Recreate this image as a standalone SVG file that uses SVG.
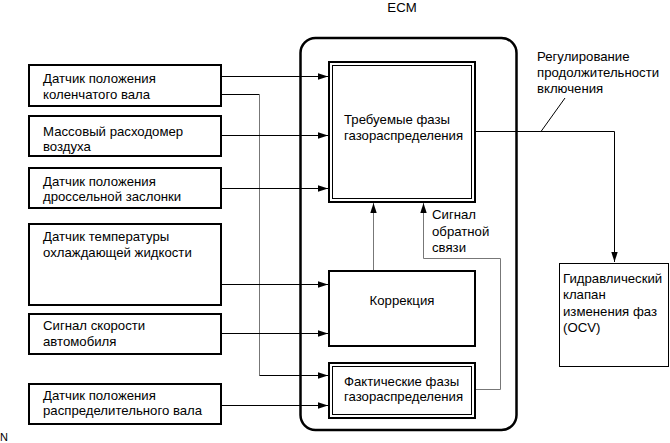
<svg xmlns="http://www.w3.org/2000/svg" width="670" height="443" viewBox="0 0 670 443">
<defs>
<style>
text{font-family:"Liberation Sans",Arial,sans-serif;font-size:13.2px;fill:#000}
.box{fill:#fff;stroke:#000;stroke-width:2}
.thin{fill:none;stroke:#000;stroke-width:1}
.ln{fill:none;stroke:#000;stroke-width:1}
.gl{fill:none;stroke:#777;stroke-width:1}
.ecm{fill:none;stroke:#000;stroke-width:2.5}
</style>
<marker id="ar" markerUnits="userSpaceOnUse" markerWidth="10" markerHeight="8" refX="10" refY="4" orient="auto">
<path d="M0,0.8 L10,4 L0,7.2 Z" fill="#000"/>
</marker>
</defs>
<rect width="670" height="443" fill="#fff"/>
<text x="402" y="12" text-anchor="middle">ECM</text>
<g id="ecm"><rect class="ecm" x="300.5" y="38" width="216" height="392" rx="15"/></g>
<g id="s1"><rect class="box" x="29" y="65" width="192" height="41"/><text x="43" y="83">Датчик положения</text><text x="43" y="99">коленчатого вала</text></g>
<g id="s2"><rect class="box" x="29" y="116" width="192" height="40"/><text x="43" y="136">Массовый расходомер</text><text x="43" y="151">воздуха</text></g>
<g id="s3"><rect class="box" x="29" y="168" width="192" height="40"/><text x="43" y="186">Датчик положения</text><text x="43" y="201">дроссельной заслонки</text></g>
<g id="s4"><rect class="box" x="29" y="224" width="192" height="81"/><text x="43" y="241">Датчик температуры</text><text x="43" y="257">охлаждающей жидкости</text></g>
<g id="s5"><rect class="box" x="29" y="314" width="192" height="40"/><text x="43" y="330">Сигнал скорости</text><text x="43" y="346">автомобиля</text></g>
<g id="s6"><rect class="box" x="29" y="384" width="192" height="40"/><text x="43" y="400">Датчик положения</text><text x="43" y="415">распределительного вала</text></g>
<g id="req"><rect class="box" x="329" y="62" width="146" height="140"/><rect class="thin" x="332.5" y="65.5" width="139" height="133"/><text x="344" y="124">Требуемые фазы</text><text x="344" y="140">газораспределения</text></g>
<g id="cor"><rect class="box" x="329" y="271" width="146" height="75"/><text x="402" y="305" text-anchor="middle">Коррекция</text></g>
<g id="act"><rect class="box" x="329" y="363" width="146" height="55"/><rect class="thin" x="332.5" y="366.5" width="139" height="48"/><text x="344" y="386">Фактические фазы</text><text x="344" y="401">газораспределения</text></g>
<g id="ocv"><rect class="thin" x="559.5" y="263.5" width="109" height="103" fill="#fff"/><text x="563" y="283">Гидравлический</text><text x="563" y="299">клапан</text><text x="563" y="316">изменения фаз</text><text x="563" y="332">(OCV)</text></g>
<g id="connectors">
<path class="ln" d="M221,76.5 H328" marker-end="url(#ar)"/>
<path class="ln" d="M221,94.5 H259.5"/>
<path class="gl" d="M259.5,94.5 V375.5"/>
<path class="ln" d="M259.5,375.5 H328" marker-end="url(#ar)"/>
<path class="ln" d="M221,135.5 H328" marker-end="url(#ar)"/>
<path class="ln" d="M221,188.5 H328" marker-end="url(#ar)"/>
<path class="ln" d="M221,284.5 H328" marker-end="url(#ar)"/>
<path class="ln" d="M221,333.5 H328" marker-end="url(#ar)"/>
<path class="ln" d="M221,405.5 H328" marker-end="url(#ar)"/>
<path class="gl" d="M373.5,270 V203" marker-end="url(#ar)"/>
<path class="gl" d="M476,389.5 H500.5 V258.5 H423.5 V203" marker-end="url(#ar)"/>
<path class="ln" d="M476,131.5 H614.5 V262" marker-end="url(#ar)"/>
<path class="ln" d="M565,98 L541,131.5"/>
</g>
<text x="432" y="219">Сигнал</text>
<text x="432" y="236">обратной</text>
<text x="432" y="252">связи</text>
<text x="537" y="61">Регулирование</text>
<text x="537" y="77">продолжительности</text>
<text x="537" y="93">включения</text>
<text x="0" y="441" style="font-size:11px">N</text>
</svg>
